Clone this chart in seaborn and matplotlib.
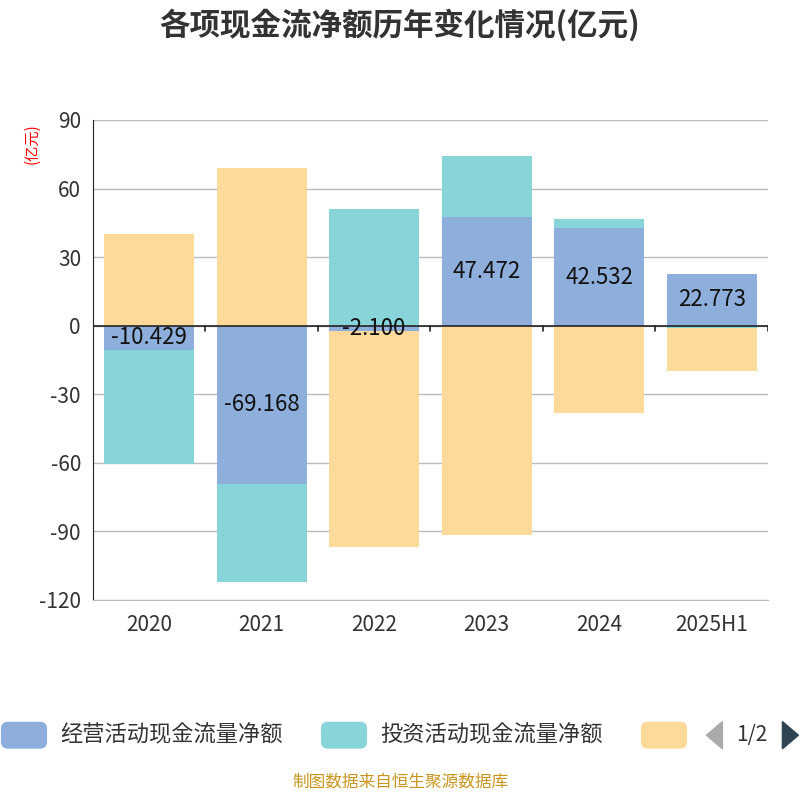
import matplotlib
matplotlib.use("Agg")
import matplotlib.pyplot as plt
import seaborn as sns
import numpy as np
from matplotlib.patches import FancyBboxPatch

categories = ["2020", "2021", "2022", "2023", "2024", "2025H1"]
operating = [-10.429, -69.168, -2.1, 47.472, 42.532, 22.773]
investing = [-50.2, -42.8, 50.9, 26.7, 4.0, -0.8]
financing = [40.0, 68.9, -94.9, -91.7, -38.2, -19.0]
series_names = ["经营活动现金流量净额", "投资活动现金流量净额", "筹资活动现金流量净额"]
colors = ["#8eaedb", "#88d5d9", "#fdd99a"]
yticks = [-120, -90, -60, -30, 0, 30, 60, 90]

sns.set_style("white")
plt.rcParams["font.family"] = ["Noto Sans CJK SC", "Noto Sans CJK JP", "Noto Sans CJK TC", "DejaVu Sans"]
fig = plt.figure(figsize=(8, 8), dpi=100)
ax = fig.add_axes([0.116, 0.25, 0.844, 0.6])

x = np.arange(len(categories))
pos = np.zeros(len(x)); neg = np.zeros(len(x))
for vals, c in zip([operating, investing, financing], colors):
    v = np.array(vals)
    bottom = np.where(v >= 0, pos, neg)
    ax.bar(x, v, bottom=bottom, width=0.8, color=c, linewidth=0, zorder=2)
    pos = pos + np.where(v >= 0, v, 0)
    neg = neg + np.where(v < 0, v, 0)
    if c == colors[0]:
        for xi, vi in zip(x, v):
            ax.text(xi, vi / 2, f"{vi:.3f}", ha="center", va="center",
                    fontsize=16, color="#111", zorder=4)

ax.set_ylim(-120, 90)
ax.set_xlim(-0.5, len(x) - 0.5)
ax.set_yticks(yticks)
ax.set_yticklabels([str(t) for t in yticks], fontsize=15, color="#333")
ax.yaxis.grid(True, color="#bbbbbb", lw=1, zorder=0)
for s in ["top", "right"]:
    ax.spines[s].set_visible(False)
ax.spines["bottom"].set_color("#bbbbbb")
ax.spines["left"].set_color("#222")
ax.tick_params(axis="y", length=5, color="#222")
ax.set_xticks(x)
ax.set_xticklabels(categories, fontsize=15, color="#333")
ax.tick_params(axis="x", length=0, pad=10)
ax.axhline(0, color="#222", lw=1.2, zorder=3)
for b in np.arange(-0.5, len(x), 1.0):
    ax.plot([b, b], [0, -2.5], color="#222", lw=1.2, zorder=3)

fig.text(0.5, 0.968, "各项现金流净额历年变化情况(亿元)", ha="center", va="center",
         fontsize=22, fontweight="bold", color="#333")
fig.text(0.04, 0.82, "(亿元)", rotation=90, ha="center", va="center", fontsize=11, color="red")

ly = 0.081
for lx, name, c in [(0.0, series_names[0], colors[0]), (0.4, series_names[1], colors[1]), (0.8, series_names[2], colors[2])]:
    fig.patches.append(FancyBboxPatch((lx + 0.002, ly - 0.016), 0.056, 0.032, boxstyle="round,pad=0,rounding_size=0.008",
                                      transform=fig.transFigure, color=c))
    if lx < 0.7:
        fig.text(lx + 0.075, ly, name, ha="left", va="center", fontsize=16, color="#333")
fig.patches.append(plt.Polygon([[0.883, ly], [0.903, ly + 0.017], [0.903, ly - 0.017]], closed=True,
                               transform=fig.transFigure, color="#aaaaaa"))
fig.text(0.94, ly, "1/2", ha="center", va="center", fontsize=15, color="#333")
fig.patches.append(plt.Polygon([[0.998, ly], [0.978, ly + 0.017], [0.978, ly - 0.017]], closed=True,
                               transform=fig.transFigure, color="#2f4554"))
fig.text(0.5, 0.012, "制图数据来自恒生聚源数据库", ha="center", va="bottom", fontsize=12, color="#c8961e")

fig.savefig("out.png", dpi=100)
